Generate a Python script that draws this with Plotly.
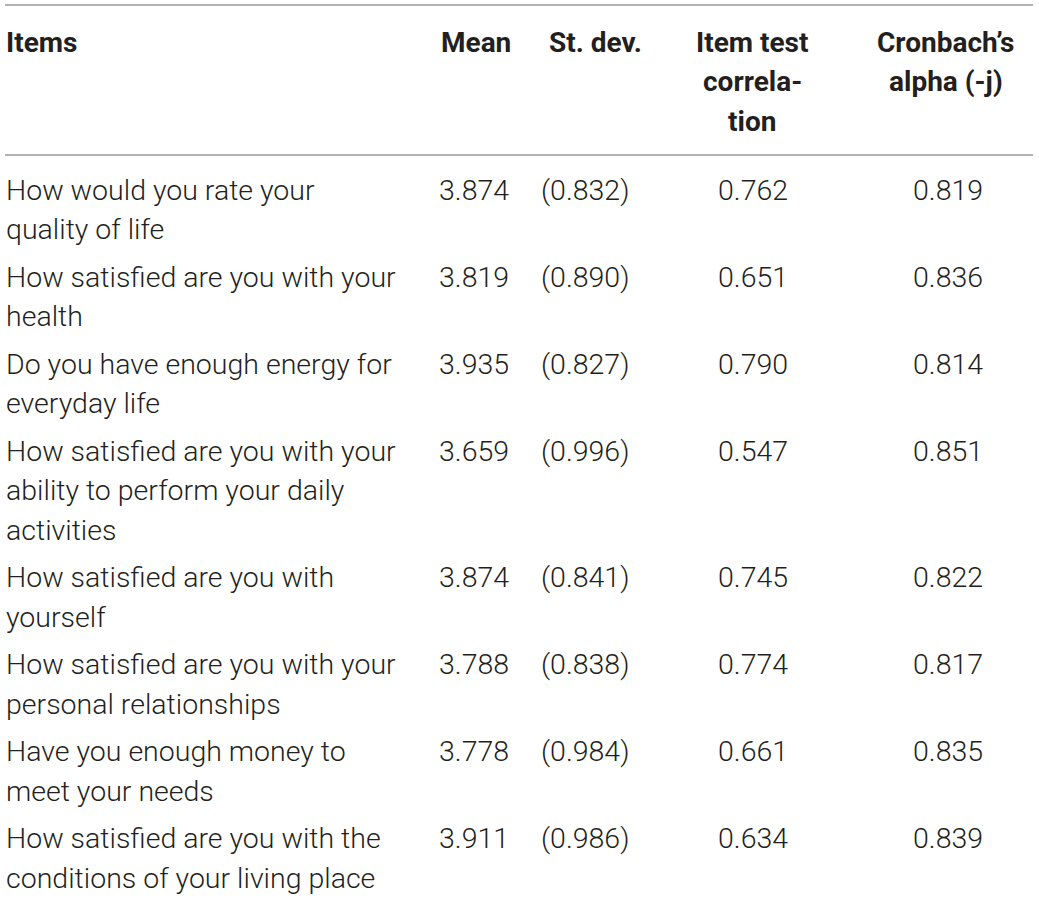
import plotly.graph_objects as go

# Data
headers = ["Items", "Mean", "St. dev.", "Item test<br>correla-<br>tion", "Cronbach’s<br>alpha (-j)"]
items = [
    ["How would you rate your", "quality of life"],
    ["How satisfied are you with your", "health"],
    ["Do you have enough energy for", "everyday life"],
    ["How satisfied are you with your", "ability to perform your daily", "activities"],
    ["How satisfied are you with", "yourself"],
    ["How satisfied are you with your", "personal relationships"],
    ["Have you enough money to", "meet your needs"],
    ["How satisfied are you with the", "conditions of your living place"],
]
means = [3.874, 3.819, 3.935, 3.659, 3.874, 3.788, 3.778, 3.911]
st_dev = [0.832, 0.890, 0.827, 0.996, 0.841, 0.838, 0.984, 0.986]
item_test = [0.762, 0.651, 0.790, 0.547, 0.745, 0.774, 0.661, 0.634]
alpha_j = [0.819, 0.836, 0.814, 0.851, 0.822, 0.817, 0.835, 0.839]

W, H = 1039, 898
FONT = "Roboto"
TXT = "#231f20"
SIZE = 28.5
LINE_H = 39.5
ROW_GAP = 8

body_font = dict(family=FONT, size=SIZE, color=TXT, weight=300)
head_font = dict(family=FONT, size=28, color=TXT, weight=700)

fig = go.Figure()
ann = []

# header
head_y = 42
col_head = [(4, "left"), (513, "right"), (595, "center"), (752, "center"), (946, "center")]
for h, (x, anchor) in zip(headers, col_head):
    for k, part in enumerate(h.split("<br>")):
        ann.append(dict(x=x, y=head_y + k * LINE_H, text=part,
                        xanchor=anchor, yanchor="middle", showarrow=False, font=head_font))

# body rows
y = 190
for i, lines in enumerate(items):
    for k, line in enumerate(lines):
        ann.append(dict(x=4, y=y + k * LINE_H, text=line, xanchor="left", yanchor="middle",
                        showarrow=False, font=body_font))
    vals = [(511, "right", f"{means[i]:.3f}"),
            (585, "center", f"({st_dev[i]:.3f})"),
            (753, "center", f"{item_test[i]:.3f}"),
            (948, "center", f"{alpha_j[i]:.3f}")]
    for x, anchor, t in vals:
        ann.append(dict(x=x, y=y, text=t, xanchor=anchor, yanchor="middle",
                        showarrow=False, font=body_font))
    y += len(lines) * LINE_H + ROW_GAP

# rules
shapes = [
    dict(type="line", x0=5, x1=1033, y0=5, y1=5, line=dict(color="#9a9a9a", width=1.5)),
    dict(type="line", x0=5, x1=1033, y0=155, y1=155, line=dict(color="#9a9a9a", width=1.5)),
]

fig.update_layout(
    width=W, height=H,
    margin=dict(l=0, r=0, t=0, b=0),
    paper_bgcolor="white", plot_bgcolor="white",
    xaxis=dict(range=[0, W], visible=False, fixedrange=True),
    yaxis=dict(range=[H, 0], visible=False, fixedrange=True),
    annotations=ann, shapes=shapes, showlegend=False,
)

fig.write_html("out.html", config={"displayModeBar": False},
               post_script="document.body.style.margin='0';")
